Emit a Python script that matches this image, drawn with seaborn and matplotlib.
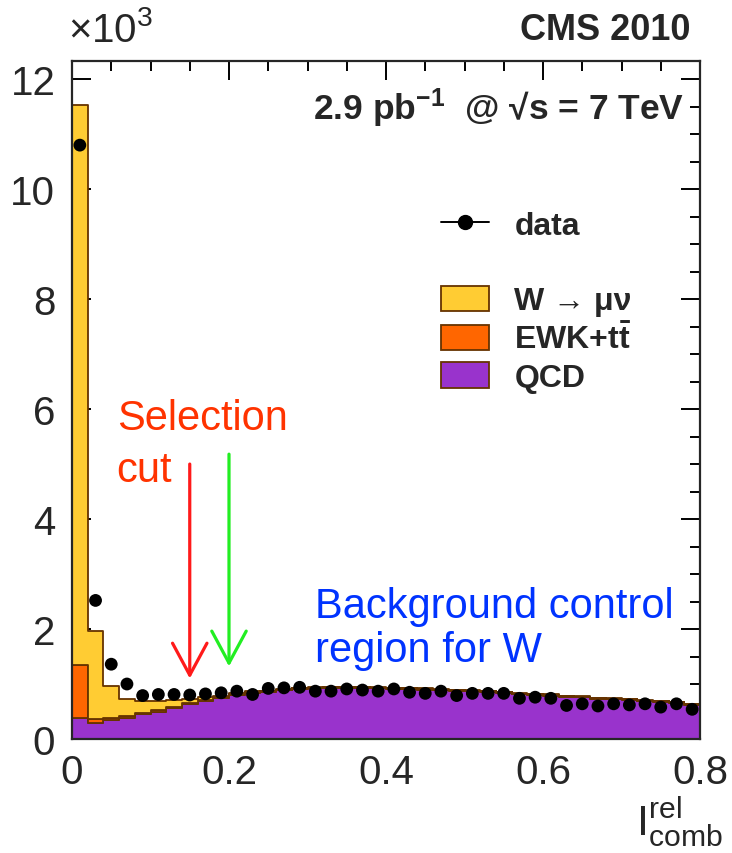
import numpy as np
import pandas as pd
import matplotlib
matplotlib.use("Agg")
import matplotlib.pyplot as plt
from matplotlib.patches import Patch
from matplotlib.lines import Line2D
from matplotlib.ticker import MultipleLocator, FuncFormatter
import seaborn as sns

sns.set_style("ticks")
plt.rcParams["font.family"] = ["Liberation Sans", "DejaVu Sans"]
plt.rcParams["mathtext.fontset"] = "custom"
plt.rcParams["mathtext.rm"] = "Liberation Sans"
plt.rcParams["mathtext.bf"] = "Liberation Sans:bold"
plt.rcParams["mathtext.it"] = "Liberation Sans:italic"

# events per bin, in units of 10^3 (bins of 0.02 from 0 to 0.8)
data = [10.80, 2.52, 1.36, 1.00, 0.79, 0.81, 0.81, 0.80, 0.82, 0.84,
        0.87, 0.81, 0.92, 0.93, 0.94, 0.87, 0.87, 0.91, 0.89, 0.87,
        0.91, 0.85, 0.83, 0.87, 0.79, 0.83, 0.83, 0.83, 0.74, 0.76,
        0.74, 0.61, 0.64, 0.60, 0.64, 0.62, 0.64, 0.58, 0.64, 0.54]
qcd = [0.38, 0.30, 0.34, 0.38, 0.45, 0.50, 0.57, 0.64, 0.70, 0.75,
       0.80, 0.84, 0.86, 0.89, 0.91, 0.92, 0.93, 0.93, 0.93, 0.92,
       0.91, 0.91, 0.90, 0.89, 0.88, 0.87, 0.86, 0.84, 0.81, 0.80,
       0.79, 0.77, 0.76, 0.73, 0.72, 0.71, 0.69, 0.68, 0.66, 0.62]
ewk = [0.97, 0.07, 0.04, 0.03, 0.02, 0.02, 0.02, 0.02, 0.01, 0.01,
       0.01, 0.01, 0.01, 0.01, 0.01, 0.01, 0.01, 0.01, 0.01, 0.01,
       0.01, 0.01, 0.01, 0.01, 0.01, 0.01, 0.01, 0.01, 0.01, 0.01,
       0.01, 0.01, 0.01, 0.01, 0.01, 0.01, 0.01, 0.01, 0.01, 0.01]
wmunu = [10.18, 1.60, 0.59, 0.32, 0.22, 0.17, 0.12, 0.07, 0.05, 0.03,
         0.02, 0.02, 0.01, 0.01, 0.01, 0.01, 0.01, 0.01, 0.01, 0.01,
         0.01, 0.01, 0.01, 0.01, 0.01, 0.01, 0.01, 0.01, 0.01, 0.01,
         0.01, 0.01, 0.01, 0.01, 0.01, 0.01, 0.01, 0.01, 0.01, 0.01]

edges = np.linspace(0, 0.8, 41)
centers = 0.5 * (edges[:-1] + edges[1:])

col_w = "#FFCC33"
col_ewk = "#FF6600"
col_qcd = "#9933CC"
col_edge = "#663300"

mc = pd.DataFrame({
    "x": np.tile(centers, 3),
    "w": wmunu + ewk + qcd,
    "comp": ["W"] * 40 + ["EWK"] * 40 + ["QCD"] * 40,
})

fig = plt.figure(figsize=(7.32, 8.54), dpi=100)
ax = fig.add_axes([72 / 732, 114 / 854, 628 / 732, 678 / 854])

# seaborn stacks reversed: last hue level at bottom
sns.histplot(data=mc, x="x", weights="w", hue="comp", hue_order=["W", "EWK", "QCD"],
             multiple="stack", bins=list(edges), element="step", alpha=1,
             palette={"W": col_w, "EWK": col_ewk, "QCD": col_qcd},
             edgecolor=col_edge, linewidth=1.3, legend=False, ax=ax)

sns.scatterplot(x=centers, y=data, color="black", s=85, edgecolor="none", zorder=5, ax=ax)

ax.set_xlim(0, 0.8)
ax.set_ylim(0, 12.33)
ax.set_xlabel("")
ax.set_ylabel("")
ax.xaxis.set_major_locator(MultipleLocator(0.2))
ax.xaxis.set_minor_locator(MultipleLocator(0.05))
ax.yaxis.set_major_locator(MultipleLocator(2))
ax.yaxis.set_minor_locator(MultipleLocator(0.5))
ax.xaxis.set_major_formatter(FuncFormatter(lambda v, p: "%g" % v))
ax.tick_params(which="both", direction="in", top=True, right=True, width=1.4,
               labelsize=29, color="black")
ax.tick_params(which="major", length=14)
ax.tick_params(which="minor", length=7)
ax.tick_params(axis="y", pad=12)
ax.tick_params(axis="x", pad=10)
for s in ax.spines.values():
    s.set_linewidth(1.6)
    s.set_visible(True)
    s.set_zorder(10)

# selection arrows
ax.annotate("", xy=(0.15, 1.1), xytext=(0.15, 5.0),
            arrowprops=dict(arrowstyle="->,head_length=1.15,head_width=0.62",
                            color="#FF1A1A", lw=2.3, shrinkA=0, shrinkB=0, mutation_scale=20))
ax.annotate("", xy=(0.2, 1.32), xytext=(0.2, 5.18),
            arrowprops=dict(arrowstyle="->,head_length=1.15,head_width=0.62",
                            color="#22EE22", lw=2.3, shrinkA=0, shrinkB=0, mutation_scale=20))

ax.text(0.057, 6.2, "Selection\ncut", color="#FF3300", fontsize=30, va="top", ha="left",
        linespacing=1.4)
ax.text(0.31, 2.78, "Background control\nregion for W", color="#0033FF", fontsize=30,
        va="top", ha="left", linespacing=1.12)

ax.text(0.975, 0.932, r"2.9 pb$^{\mathbf{-1}}$  @ √s = 7 TeV", transform=ax.transAxes,
        ha="right", va="center", fontsize=25.5, fontweight="bold")

fig.text(690 / 732, 1 - 31 / 854, "CMS 2010", ha="right", va="center", fontsize=26,
         fontweight="bold")
fig.text(68 / 732, 1 - 30 / 854, r"$\mathregular{\times10^3}$", ha="left", va="center",
         fontsize=29)
fig.text(636 / 732, 1 - 822 / 854, r"$\mathregular{I^{rel}_{comb}}$", ha="left",
         va="center", fontsize=31)

handles = [
    Line2D([], [], color="black", marker="o", markersize=10, lw=1.4),
    Patch(facecolor="none", edgecolor="none"),
    Patch(facecolor=col_w, edgecolor=col_edge, lw=1.3),
    Patch(facecolor=col_ewk, edgecolor=col_edge, lw=1.3),
    Patch(facecolor=col_qcd, edgecolor=col_edge, lw=1.3),
]
labels = ["data", "", "W → μν", r"EWK+t$\mathbf{\bar{t}}$", "QCD"]
ax.legend(handles, labels, loc="upper left", bbox_to_anchor=((441 - 72) / 628, (740 - 211) / 678),
          frameon=False, borderpad=0, borderaxespad=0, handlelength=1.5, handleheight=0.85,
          handletextpad=0.8, labelspacing=0.22, prop={"size": 23, "weight": "bold"})

fig.savefig("out.png", dpi=100, facecolor="white")
